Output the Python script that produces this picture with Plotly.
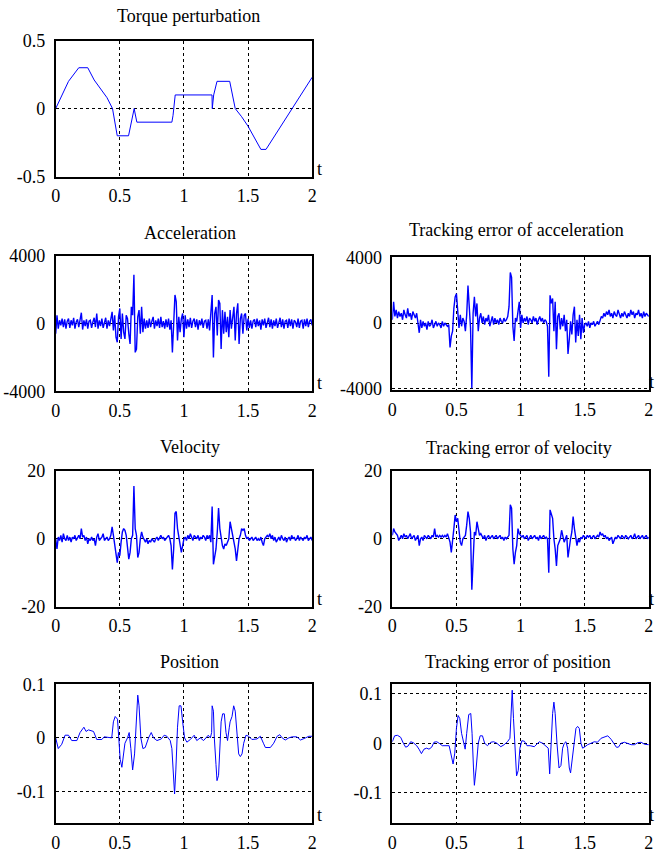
import plotly.graph_objects as go

W, H = 657, 853
FONT = "Liberation Serif"
BLUE = "#0000ff"

# ---------------- data ----------------
T_STEP = 0.01  # sampling step of the noisy signals (s)

torque_t = [0, 0.1, 0.18, 0.25, 0.30, 0.40, 0.443, 0.48, 0.568, 0.60, 0.612, 0.62, 0.633,
            0.906, 0.915, 0.932, 1.219, 1.221, 1.226, 1.232, 1.258, 1.357, 1.40, 1.45, 1.50,
            1.60, 1.64, 1.84, 2.0]
torque_v = [0, 0.2, 0.3, 0.3, 0.21, 0.08, 0.0, -0.2, -0.2, -0.05, 0.0, -0.04, -0.1,
            -0.1, -0.05, 0.1, 0.1, 0.0, 0.06, 0.1, 0.2, 0.2, 0.0, -0.06, -0.13,
            -0.3, -0.3, 0.0, 0.23]

accel = [-600, 500, -300, 200, -100, 300, -200, 250, -300, 150,
         300, -250, 200, -100, 350, -300, 100, 250, -200, 300,
         650, -350, 200, -150, 250, -300, 150, 200, -250, 100,
         350, -200, 600, -300, 200, -150, 300, -250, 100, 350,
         -300, 200, -150, 300, 700, -400, 500, -800, -1100, 400,
         900, -900, 600, -500, -900, 500, 300, -600, -1200, 1000,
         500, 2900, -1700, -1500, 400, 800, -600, 1000, -500, 300,
         -300, 200, -250, 300, -200, 150, 400, -300, 200, -150,
         300, -250, 400, -200, 150, -300, 250, -200, 300, -350,
         200, -1700, 600, 1700, 1300, -1000, 400, -500, 300, 600,
         -800, 500, -300, 250, -200, 350, -250, 150, 300, -200,
         250, -350, 200, -100, 300, -250, 150, 200, -300, 250,
         -400, 500, 1700, -2000, 600, 1000, -700, 1400, 1200, -1500,
         800, -600, 700, -500, 400, -800, 800, -300, 500, 1000,
         -1000, 600, 1200, -1200, 300, 600, -600, 500, 600, -400,
         300, -250, 200, -300, 150, 250, -200, 300, -150, 200,
         -350, 250, -100, 300, -250, 150, 350, -200, 250, -300,
         200, -150, 300, -250, 100, 350, -200, 250, -300, 150,
         200, -250, 300, -150, 250, -300, 200, 100, -200, 300,
         -250, 150, 200, -300, 250, -150, 300, -200, 150, 250,
         -100]

accel_err = [200, 1300, 400, 800, 300, 700, 400, 600, 200, 800,
             500, 300, 900, 400, 600, 200, 700, 500, 300, 600,
             100, -600, 200, -300, 100, -200, 0, -400, 100, -200,
             -100, 200, -300, -100, 100, -200, 0, -100, -300, 100,
             -200, 0, -100, -200, -100, -1500, -800, -500, 900, 1600,
             1800, 600, -300, 500, -200, 300, 100, -500, 500, 2300,
             1000, -300, -4000, 600, 1600, 400, 1200, -500, 300, 600,
             0, 400, -100, 300, 100, 500, -200, 200, 400, -100,
             300, 0, 200, -100, 300, 100, 0, 300, 100, 200,
             400, 1000, 3100, 2800, -200, -1100, 300, 100, 800, 1300,
             -300, 500, 0, 300, 100, 400, -100, 300, 200, 0,
             400, 100, 300, -100, 200, 400, 100, 300, 0, 200,
             100, -200, -3300, 1700, 1200, 1500, -500, 1300, -1600, 400,
             600, -400, 300, -200, 500, -500, 200, -1900, -1000, 100,
             -700, 500, 1000, -1200, 200, -800, 500, -1000, 300, -600,
             -100, 0, -200, 100, -300, 0, -100, 100, -200, -50,
             100, -100, 200, 400, 300, 600, 400, 700, 500, 800,
             400, 600, 300, 700, 500, 400, 800, 500, 300, 600,
             400, 700, 500, 300, 600, 400, 800, 500, 700, 300,
             600, 500, 800, 400, 600, 300, 700, 400, 600, 500,
             400]

veloc = [0, -3, 0.5, -0.5, 1, -1, 1.5, 0, -0.5, 1,
         -0.5, 0.5, -1, 0.5, 0, 1, -0.5, 0.5, 1, 0,
         3, 0.5, 1, -0.5, 0.5, -1.5, 0, -0.5, 0.5, -0.5,
         0, -2, 0.5, 1.5, -0.5, 0, 0.5, 1.5, -0.5, 0,
         0.5, -0.5, 0, 1, 3.5, 1, -2, -4, -7, -4,
         -5, -1, 2, 3, 2.5, 1, -2, -6, -4, 0,
         1, 15.5, 3, 1, -5.5, -4, 0, 2, 0.5, -0.5,
         -1, 0, -1.5, -0.5, -1, 0, -0.5, -1, 0, 0.5,
         -0.5, 0.5, 1, 0, 0.5, -0.5, 0, 0.5, 1, 0,
         -2, -9, -3, 7.5, 8, 3, 1, -2, -4, -2,
         0, 0.5, -0.5, 1, 0, 1.5, 0.5, -0.5, 1, 0.5,
         0, 1, -0.5, 0.5, 0, 1, 0.5, -0.5, 1, 0,
         1, -1, 9.5, -7.5, -5, -3, 2, 9, 3, 0,
         -2, -3, -1.5, -2, -1, 0, 5, 3, 0, -1,
         -3, -6.5, -3, 0, 1, 3, 2.5, 3, 1, 0,
         0.5, -0.5, 0, 0.5, -0.5, 0, 0.5, -0.5, 0, -0.5,
         0.5, -1, -2, 0, 0.5, 1, 0.5, 1.5, 0, 1,
         -0.5, 0.5, -1, 0, 0.5, -0.5, 1, 0, -0.5, 0.5,
         -1, 0, 0.5, -0.5, 1, 0, 0.5, -0.5, 0, 1,
         -0.5, 0.5, 0, -0.5, 0.5, 0, 1, -0.5, 0, 0.5,
         -0.5]

veloc_err = [1, 3, 2, 1.5, 1, -0.5, 0.5, 1, 0, 1.5,
             0.5, 1, 0, 1, 1.5, 0, 0.5, 1, -0.5, 0.5,
             1, -2, 0, 0.5, -0.5, 1, 0.5, 0, 1, 0.5,
             0, 1, 0.5, 3, 0.5, 1, 0.5, 1, 0.5, 1,
             0.5, 1, 0.5, 1.5, 0, -1, -4, -1, 3, 7,
             5, 6, 2, -1, -2, 0, 0.5, 1, 4, 8,
             6, 2, -15, -6, 2, 1, 5, 3, 1, 1.5,
             0.5, 0, 1, -0.5, 0.5, 1, 0, 0.5, 1, 0,
             0.5, 1, 0, 0.5, 1, 0, 0.5, -0.5, 0.5, 0,
             0.5, 1, 10, 9, -3, -7.5, -4, -2, 3, 1.5,
             1, 0.5, 1, 0, 0.5, 1, -0.5, 0.5, 1, 0,
             0.5, 1, 0, 0.5, -0.5, 1, 0, 0.5, 1, 0,
             0.5, 0, -10, 8.5, 7, 6, 0, -3, -8, -2,
             -1, 0, 2.5, 1, -1, 0, 1, -5.5, -2, 0,
             2, 6.5, 3, 1, -2, 0, -1, 0.5, 0, 1,
             0.5, 0, 1, 0.5, 1, 0, 0.5, 1, 0, 0.5,
             1, 0.5, 2, 1, 1.5, 0.5, 1, 0, 0.5, -0.5,
             0, 0.5, -1.5, -0.5, 0.5, 0, 1, 0.5, 0, 1,
             0.5, 0, 1, 0.5, 0, 0.5, 1, 0, 0.5, 1.5,
             0, 0.5, 1, 0, 0.5, 1, 0, 0.5, 1, 0,
             0.5]

pos_t = [0, 0.02, 0.047, 0.073, 0.1, 0.125, 0.165, 0.19, 0.22, 0.237, 0.255, 0.295, 0.32,
         0.36, 0.378, 0.437, 0.45, 0.464, 0.482, 0.49, 0.503, 0.516, 0.53, 0.54, 0.56,
         0.573, 0.586, 0.6, 0.615, 0.628, 0.64, 0.65, 0.664, 0.68, 0.698, 0.724, 0.745,
         0.763, 0.79, 0.823, 0.846, 0.867, 0.893, 0.906, 0.92, 0.927, 0.937, 0.95, 0.963,
         0.977, 0.99, 1.005, 1.023, 1.05, 1.08, 1.1, 1.128, 1.153, 1.19, 1.206, 1.216,
         1.22, 1.23, 1.237, 1.25, 1.258, 1.27, 1.279, 1.29, 1.302, 1.315, 1.328, 1.34,
         1.354, 1.36, 1.375, 1.388, 1.4, 1.414, 1.427, 1.44, 1.453, 1.466, 1.484, 1.505,
         1.53, 1.57, 1.596, 1.62, 1.635, 1.674, 1.7, 1.727, 1.747, 1.766, 1.79, 1.818,
         1.844, 1.88, 1.909, 1.948, 1.974, 2.0]
pos_v = [0, -0.02, -0.012, 0.005, 0.005, -0.005, -0.005, 0.01, 0.02, 0.012, 0.015, 0.012, -0.003,
         -0.003, 0.002, 0.0, 0.03, 0.04, 0.035, 0.0, -0.04, -0.055, -0.03, -0.01, 0.0,
         0.01, -0.02, -0.06, -0.03, 0.04, 0.08, 0.06, 0.0, -0.02, -0.018, 0.0, 0.01,
         0.0, -0.005, -0.002, 0.005, 0.003, -0.005, -0.02, -0.08, -0.105, -0.06, 0.02, 0.06,
         0.06, 0.03, 0.0, -0.008, -0.003, 0.005, -0.005, 0.0, -0.005, 0.005, 0.0, 0.01,
         0.06, 0.05, 0.0, -0.05, -0.08, -0.07, -0.02, 0.03, 0.045, 0.045, 0.01, -0.005,
         0.02, 0.03, 0.04, 0.06, 0.05, 0.0, -0.03, -0.035, -0.03, -0.01, 0.005, 0.003,
         -0.003, -0.002, 0.003, -0.01, -0.018, -0.018, -0.01, 0.003, 0.006, 0.0, -0.004, 0.0,
         0.002, 0.002, -0.004, 0.0, 0.003, 0.003]

perr_t = [0, 0.018, 0.04, 0.065, 0.086, 0.104, 0.122, 0.143, 0.164, 0.19, 0.208, 0.227,
          0.247, 0.268, 0.286, 0.307, 0.325, 0.346, 0.365, 0.39, 0.443, 0.46, 0.474, 0.487,
          0.5, 0.513, 0.526, 0.54, 0.555, 0.568, 0.58, 0.596, 0.612, 0.622, 0.633, 0.64,
          0.654, 0.67, 0.685, 0.703, 0.72, 0.742, 0.768, 0.79, 0.815, 0.846, 0.872, 0.898,
          0.917, 0.927, 0.935, 0.945, 0.956, 0.969, 0.982, 0.995, 1.01, 1.03, 1.05, 1.075,
          1.107, 1.133, 1.146, 1.172, 1.198, 1.216, 1.227, 1.237, 1.25, 1.26, 1.27, 1.284,
          1.3, 1.315, 1.328, 1.341, 1.354, 1.367, 1.38, 1.39, 1.404, 1.42, 1.432, 1.445,
          1.458, 1.471, 1.484, 1.497, 1.523, 1.55, 1.575, 1.6, 1.628, 1.659, 1.68, 1.706,
          1.727, 1.747, 1.763, 1.784, 1.81, 1.836, 1.862, 1.888, 1.914, 1.94, 1.966, 2.0]
perr_v = [0.003, 0.015, 0.016, 0.012, 0.0, -0.008, -0.006, 0.003, 0.001, -0.005, -0.012, -0.021,
          -0.012, -0.01, -0.012, -0.008, 0.002, 0.003, 0.0, -0.005, -0.005, -0.025, -0.042, -0.02,
          0.03, 0.056, 0.05, 0.02, 0.0, -0.012, 0.02, 0.058, 0.06, 0.02, -0.05, -0.085,
          -0.05, 0.0, 0.015, 0.015, 0.0, -0.005, 0.002, 0.003, 0.0, -0.007, -0.003, 0.003,
          0.01, 0.06, 0.107, 0.05, -0.02, -0.066, -0.055, -0.01, 0.005, 0.004, -0.005, -0.005,
          -0.007, 0.0, 0.003, 0.0, -0.005, -0.01, -0.062, 0.0, 0.06, 0.083, 0.06, 0.0,
          -0.05, -0.045, -0.01, 0.0, 0.003, -0.01, -0.05, -0.06, -0.03, 0.01, 0.03, 0.034,
          0.03, 0.0, -0.01, -0.008, -0.003, 0.0, 0.003, 0.002, 0.01, 0.013, 0.015, 0.008,
          0.0, -0.008, -0.008, 0.0, 0.002, 0.0, -0.003, -0.003, 0.001, 0.002, -0.002, -0.003]

titles = ["Torque perturbation", "Acceleration", "Tracking error of acceleration",
          "Velocity", "Tracking error of velocity", "Position", "Tracking error of position"]
x_ticks = [0, 0.5, 1, 1.5, 2]
x_ticktext = ["0", "0.5", "1", "1.5", "2"]

def grid_t(n):
    return [round(i * T_STEP, 4) for i in range(n)]

series = [
    (torque_t, torque_v, 1.0),
    (grid_t(len(accel)), accel, 1.4),
    (grid_t(len(accel_err)), accel_err, 1.4),
    (grid_t(len(veloc)), veloc, 1.4),
    (grid_t(len(veloc_err)), veloc_err, 1.4),
    (pos_t, pos_v, 1.0),
    (perr_t, perr_v, 1.0),
]

y_specs = [
    ([-0.5, 0.5], [-0.5, 0, 0.5], ["-0.5", "0", "0.5"]),
    ([-4000, 4000], [-4000, 0, 4000], ["-4000", "0", "4000"]),
    ([-4120, 4040], [-4000, 0, 4000], ["-4000", "0", "4000"]),
    ([-20, 20], [-20, 0, 20], ["-20", "0", "20"]),
    ([-20, 20], [-20, 0, 20], ["-20", "0", "20"]),
    ([-0.16, 0.1002], [-0.1, 0, 0.1], ["-0.1", "0", "0.1"]),
    ([-0.162, 0.119], [-0.1, 0, 0.1], ["-0.1", "0", "0.1"]),
]

# target screen boxes (left, right, top, bottom) in pixels
boxes = [
    (56, 312, 40, 177),
    (56, 312, 257, 393),
    (392, 648, 258, 392),
    (56, 312, 473, 610),
    (392, 648, 473, 610),
    (56, 312, 688, 828),
    (392, 648, 688, 828),
]
title_pos = [(189, 15), (190, 234), (516, 231), (190, 449), (518, 450), (190, 666), (517, 666)]

# measured capture mapping: figure pixel -> screen pixel
def yp(s):
    return (s - 9.3) / 0.977

def xp(s):
    return (s - 4.4) / 0.986

fig = go.Figure()
layout = dict(
    width=W, height=H, margin=dict(l=0, r=0, t=0, b=0, pad=0), autosize=False,
    paper_bgcolor="white", plot_bgcolor="white", showlegend=False,
    font=dict(family=FONT, size=18, color="black"),
)
annotations = []
for k, ((tx, ty, lw), (yr, yv, yt), (l, r, t, b)) in enumerate(zip(series, y_specs, boxes)):
    n = "" if k == 0 else str(k + 1)
    fig.add_trace(go.Scatter(x=tx, y=ty, mode="lines", line=dict(color=BLUE, width=lw),
                             xaxis="x" + n, yaxis="y" + n, hoverinfo="skip"))
    common = dict(showline=True, mirror=True, linecolor="black", linewidth=1.5,
                  showgrid=True, gridcolor="black", griddash="3px,3px", gridwidth=1,
                  zeroline=False, ticks="outside", tickcolor="rgba(0,0,0,0)",
                  tickfont=dict(family=FONT, size=18, color="black"))
    layout["xaxis" + n] = dict(common, domain=[xp(l) / W, min(1, xp(r) / W)], range=[0, 2],
                               tickvals=x_ticks, ticktext=x_ticktext, ticklen=2,
                               anchor="y" + n)
    layout["yaxis" + n] = dict(common, domain=[1 - yp(b) / H, 1 - yp(t) / H], range=yr,
                               tickvals=yv, ticktext=yt, ticklen=5,
                               anchor="x" + n)
    cx, cy = title_pos[k]
    annotations.append(dict(text=titles[k], x=xp(cx) / W, y=1 - yp(cy) / H, xref="paper", yref="paper",
                            showarrow=False, xanchor="center", yanchor="middle",
                            font=dict(family=FONT, size=18, color="black")))
    t_x = min(r + 7, 651)
    annotations.append(dict(text="t", x=xp(t_x) / W, y=1 - yp(b - 8) / H, xref="paper", yref="paper",
                            showarrow=False, xanchor="center", yanchor="middle",
                            font=dict(family=FONT, size=18, color="black")))
layout["annotations"] = annotations
fig.update_layout(**layout)
fig.write_html("out.html")
